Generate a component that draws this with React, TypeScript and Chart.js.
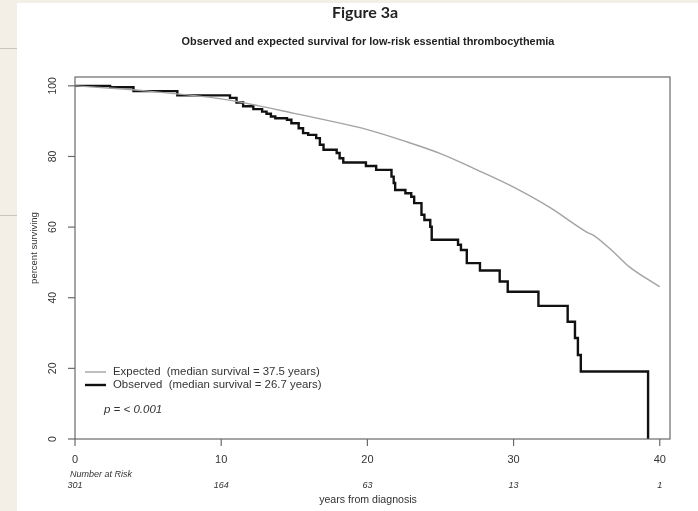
import React, { useEffect, useRef } from "react";
import { Chart, registerables } from "chart.js";

Chart.register(...registerables);

const W = 698;
const H = 511;

// Observed Kaplan-Meier steps (years, percent surviving)
const obsTimes = [0, 2.4, 4.0, 7.0, 10.6, 11.05, 11.5, 12.2, 12.8, 13.1, 13.4, 13.7, 14.5, 14.8, 15.3, 15.6, 15.95, 16.5, 16.75, 17.0, 17.9, 18.1, 18.35, 19.9, 20.6, 21.65, 21.8, 21.9, 22.6, 23.0, 23.2, 23.7, 23.9, 24.3, 24.4, 26.2, 26.4, 26.8, 27.7, 29.05, 29.6, 31.7, 33.7, 34.2, 34.4, 34.6, 39.2];
const obsSurv = [100, 99.6, 98.5, 97.3, 96.6, 95.3, 94.2, 93.4, 92.7, 92.1, 91.3, 90.8, 90.4, 89.4, 88.0, 86.6, 86.1, 85.2, 83.3, 81.9, 81.0, 79.5, 78.3, 77.3, 76.2, 74.3, 72.5, 70.5, 69.6, 68.6, 66.8, 63.5, 62.0, 60.1, 56.4, 55.0, 53.5, 49.8, 47.7, 44.6, 41.7, 37.7, 33.2, 28.6, 23.8, 19.1, 0];

// Expected survival curve
const expTimes = [0, 2.5, 5, 7.5, 10, 12.5, 15, 17.5, 20, 22.5, 25, 27.5, 30, 32.5, 35, 35.5, 36.8, 37.9, 40];
const expSurv = [100, 99.3, 98.5, 97.5, 96.3, 94.4, 92.2, 90.0, 87.6, 84.4, 80.8, 76.2, 71.3, 65.5, 58.6, 57.6, 53.1, 48.8, 43.1];

const xTicks = [0, 10, 20, 30, 40];
const yTicks = [0, 20, 40, 60, 80, 100];
const atRisk = ["301", "164", "63", "13", "1"];
const seriesLabels = ["Expected  (median survival = 37.5 years)", "Observed  (median survival = 26.7 years)"];
const titleText = "Figure 3a";
const subtitleText = "Observed and expected survival for low-risk essential thrombocythemia";
const xTitle = "years from diagnosis";
const yTitle = "percent surviving";
const atRiskTitle = "Number at Risk";
const pText = "p = < 0.001";

const SANS = "'Liberation Sans', Arial, sans-serif";

const decor = {
  id: "decor",
  beforeDraw(chart: any) {
    const ctx = chart.ctx;
    ctx.save();
    ctx.fillStyle = "#f3efe7";
    ctx.fillRect(0, 0, W, H);
    ctx.fillStyle = "#ffffff";
    ctx.fillRect(17, 3, W - 17, H - 3);
    ctx.strokeStyle = "#c9c5bd";
    ctx.lineWidth = 1;
    ctx.beginPath();
    ctx.moveTo(0, 48.5);
    ctx.lineTo(17, 48.5);
    ctx.moveTo(0, 215.5);
    ctx.lineTo(17, 215.5);
    ctx.stroke();
    ctx.restore();
  },
  afterDraw(chart: any) {
    const ctx = chart.ctx;
    const { left, right, top, bottom } = chart.chartArea;
    const xs = chart.scales.x;
    const ys = chart.scales.y;
    ctx.save();
    // box
    ctx.strokeStyle = "#6a6a6a";
    ctx.lineWidth = 1.2;
    ctx.strokeRect(left, top, right - left, bottom - top);

    // y ticks
    ctx.fillStyle = "#333";
    ctx.font = `10.5px ${SANS}`;
    ctx.textAlign = "center";
    ctx.textBaseline = "middle";
    yTicks.forEach((v) => {
      const py = ys.getPixelForValue(v);
      ctx.beginPath();
      ctx.moveTo(left - 7, py);
      ctx.lineTo(left, py);
      ctx.stroke();
      ctx.save();
      ctx.translate(53, py);
      ctx.rotate(-Math.PI / 2);
      ctx.fillText(String(v), 0, 0);
      ctx.restore();
    });

    // x ticks
    xTicks.forEach((v, i) => {
      const px = xs.getPixelForValue(v);
      ctx.beginPath();
      ctx.moveTo(px, bottom);
      ctx.lineTo(px, bottom + 7);
      ctx.stroke();
      ctx.font = `11px ${SANS}`;
      ctx.fillText(String(v), px, 460);
      ctx.font = `italic 9px ${SANS}`;
      ctx.fillText(atRisk[i], px, 485);
    });
    ctx.font = `italic 9px ${SANS}`;
    ctx.textAlign = "left";
    ctx.fillText(atRiskTitle, 70, 474);

    // axis titles
    ctx.textAlign = "center";
    ctx.font = `10.6px ${SANS}`;
    ctx.fillText(xTitle, 368, 500);
    ctx.save();
    ctx.translate(34, 248);
    ctx.rotate(-Math.PI / 2);
    ctx.font = `9.5px ${SANS}`;
    ctx.fillText(yTitle, 0, 0);
    ctx.restore();

    // titles
    ctx.font = `bold 16px Lato, 'Open Sans', sans-serif`;
    ctx.fillStyle = "#222";
    ctx.fillText(titleText, 365, 13);
    ctx.font = `bold 10.9px ${SANS}`;
    ctx.fillText(subtitleText, 368, 42);

    // legend
    const rows = [
      { y: 372, color: "#a3a3a3", w: 1.4 },
      { y: 385, color: "#111", w: 2.4 },
    ];
    ctx.textAlign = "left";
    ctx.font = `11.4px ${SANS}`;
    rows.forEach((r, i) => {
      ctx.strokeStyle = r.color;
      ctx.lineWidth = r.w;
      ctx.beginPath();
      ctx.moveTo(85, r.y);
      ctx.lineTo(106, r.y);
      ctx.stroke();
      ctx.fillStyle = "#333";
      ctx.fillText(seriesLabels[i], 113, r.y);
    });
    ctx.font = `italic 11.5px ${SANS}`;
    ctx.fillText(pText, 104, 410);
    ctx.restore();
  },
};

export default function App() {
  const ref = useRef<HTMLCanvasElement | null>(null);
  useEffect(() => {
    document.body.style.margin = "0";
    if (!ref.current) return;
    const chart = new Chart(ref.current, {
      type: "line",
      data: {
        datasets: [
          {
            label: seriesLabels[0],
            data: expTimes.map((t, i) => ({ x: t, y: expSurv[i] })),
            borderColor: "#a3a3a3",
            borderWidth: 1.4,
            pointRadius: 0,
            tension: 0.4,
            cubicInterpolationMode: "monotone",
            fill: false,
          },
          {
            label: seriesLabels[1],
            data: obsTimes.map((t, i) => ({ x: t, y: obsSurv[i] })),
            borderColor: "#111111",
            borderWidth: 2.4,
            pointRadius: 0,
            stepped: "before",
            fill: false,
          },
        ],
      },
      options: {
        responsive: false,
        animation: false,
        layout: { padding: { left: 75, top: 77, right: 28, bottom: 72 } },
        plugins: { legend: { display: false }, tooltip: { enabled: false }, title: { display: false } },
        scales: {
          x: { type: "linear", min: 0, max: 40.7, display: false },
          y: { type: "linear", min: 0, max: 102.5, display: false },
        },
      },
      plugins: [decor],
    });
    return () => chart.destroy();
  }, []);
  return <canvas ref={ref} width={W} height={H} style={{ display: "block" }} />;
}
